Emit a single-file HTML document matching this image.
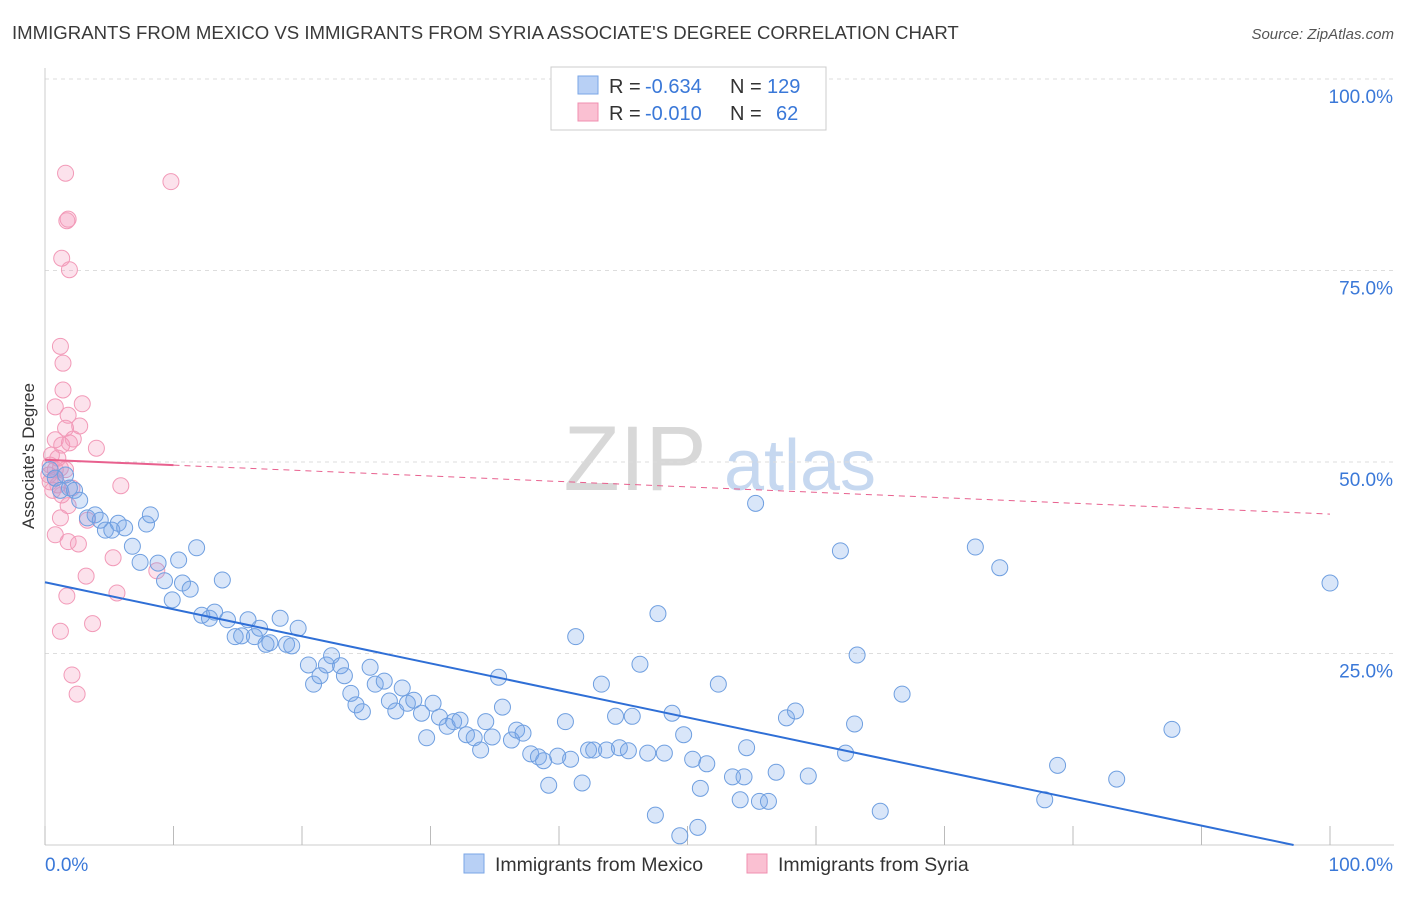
<!DOCTYPE html>
<html><head><meta charset="utf-8"><style>
body{margin:0;background:#fff;font-family:"Liberation Sans",sans-serif;}
svg text{font-family:"Liberation Sans",sans-serif;}
</style></head><body>
<svg id="chart" width="1406" height="892" xmlns="http://www.w3.org/2000/svg">
<text x="12" y="39" font-size="18.6" fill="#3a3a3a">IMMIGRANTS FROM MEXICO VS IMMIGRANTS FROM SYRIA ASSOCIATE'S DEGREE CORRELATION CHART</text>
<text x="1394" y="39" font-size="15" fill="#555" font-style="italic" text-anchor="end">Source: ZipAtlas.com</text>
<g>
<text x="635" y="490" font-size="92" fill="#d8d8d8" font-family="Liberation Serif, serif" text-anchor="middle">ZIP</text>
<text x="800" y="490" font-size="72" fill="#c6d8f0" text-anchor="middle">atlas</text>
</g>
<g id="grid"></g>
<g id="axes"></g>
<g id="marks"></g>
<text transform="translate(34,456) rotate(-90)" font-size="17" fill="#333" text-anchor="middle">Associate's Degree</text>
<g>
<rect x="551" y="67" width="275" height="63" fill="#fff" stroke="#ccc"/>
<rect x="578" y="76" width="20" height="18" fill="#b8d0f5" stroke="#7aa6e6"/>
<g font-size="20">
<text x="609" y="93" fill="#333">R =</text><text x="645" y="93" fill="#3a78d8">-0.634</text>
<text x="730" y="93" fill="#333">N =</text><text x="767" y="93" fill="#3a78d8">129</text></g>
<rect x="578" y="103" width="20" height="18" fill="#fac0d2" stroke="#f08fb0"/>
<g font-size="20">
<text x="609" y="120" fill="#333">R =</text><text x="645" y="120" fill="#3a78d8">-0.010</text>
<text x="730" y="120" fill="#333">N =</text><text x="776" y="120" fill="#3a78d8">62</text></g>
</g>
<g>
<rect x="464" y="854" width="20" height="19" fill="#b8d0f5" stroke="#7aa6e6"/>
<text x="495" y="871" font-size="19.5" fill="#333">Immigrants from Mexico</text>
<rect x="747" y="854" width="20" height="19" fill="#fac0d2" stroke="#f08fb0"/>
<text x="778" y="871" font-size="19.5" fill="#333">Immigrants from Syria</text>
</g>
</svg>
<script>
const mexX=[0.4,0.8,1.2,1.6,1.9,2.3,2.7,3.3,3.9,4.3,4.7,5.2,5.7,6.2,6.8,7.4,7.9,8.2,8.8,9.3,9.9,10.4,10.7,11.3,11.8,12.2,12.8,13.2,13.8,14.2,14.8,15.3,15.8,16.3,16.7,17.2,17.5,18.3,18.8,19.2,19.7,20.5,20.9,21.4,21.9,22.3,23.0,23.3,23.8,24.2,24.7,25.3,25.7,26.4,26.8,27.3,27.8,28.2,28.7,29.3,29.7,30.2,30.7,31.3,31.8,32.3,32.8,33.4,33.9,34.3,34.8,35.3,35.6,36.3,36.7,37.2,37.8,38.4,38.8,39.2,39.9,40.5,40.9,41.3,41.8,42.3,42.7,43.3,43.7,44.4,44.7,45.4,45.7,46.3,46.9,47.7,48.2,48.8,49.7,50.4,51.0,51.5,52.4,53.5,54.1,54.4,54.6,55.3,55.6,56.3,56.9,57.7,58.4,59.4,61.9,62.3,63.0,63.2,65.0,66.7,72.4,74.3,77.8,78.8,83.4,87.7,100.0,47.5,49.4,50.8];
const mexY=[49.0,47.9,46.3,48.3,46.6,46.3,45.0,42.7,43.1,42.4,41.1,41.1,42.0,41.4,39.0,36.9,41.9,43.1,36.8,34.5,32.0,37.2,34.2,33.4,38.8,30.0,29.6,30.4,34.6,29.4,27.2,27.3,29.4,27.2,28.3,26.2,26.4,29.6,26.2,26.0,28.3,23.5,21.0,22.1,23.5,24.7,23.4,22.1,19.8,18.3,17.4,23.2,21.0,21.4,18.8,17.5,20.5,18.5,18.9,17.2,14.0,18.5,16.7,15.5,16.1,16.3,14.4,14.0,12.4,16.1,14.1,21.9,18.0,13.7,15.0,14.6,11.9,11.5,11.0,7.8,11.6,16.1,11.2,27.2,8.1,12.4,12.4,21.0,12.4,16.8,12.7,12.3,16.8,23.6,12.0,30.2,12.0,17.2,14.4,11.2,7.4,10.6,21.0,8.9,5.9,8.9,12.7,44.6,5.7,5.7,9.5,16.6,17.5,9.0,38.4,12.0,15.8,24.8,4.4,19.7,38.9,36.2,5.9,10.4,8.6,15.1,34.2,3.9,1.2,2.3];
const syrX=[1.6,1.8,1.7,9.8,1.3,1.9,1.2,1.4,1.4,0.8,2.9,1.8,1.6,2.7,0.8,1.3,1.9,2.2,4.0,0.5,1.0,0.4,1.2,0.8,0.4,1.0,1.6,2.1,1.3,1.8,1.2,3.3,0.8,1.8,2.6,5.3,5.9,8.7,3.2,1.7,5.6,1.2,3.7,2.1,2.5,0.6,0.3,0.8];
const syrY=[87.7,81.7,81.5,86.6,76.6,75.1,65.1,62.9,59.4,57.2,57.6,56.1,54.4,54.7,52.9,52.2,52.5,53.0,51.8,50.9,50.5,49.6,49.2,47.9,47.4,47.0,49.0,46.6,45.7,44.3,42.7,42.4,40.5,39.6,39.3,37.5,46.9,35.8,35.1,32.5,32.9,27.9,28.9,22.2,19.7,46.3,48.3,49.0];
const mexFit=[34.3,-0.353];
const syrFit=[50.3,-0.071];
const syrSolidEnd=10;
const yTicks=[25,50,75,100];
const yTickLabels=["25.0%","50.0%","75.0%","100.0%"];
const xTicks=[0,10,20,30,40,50,60,70,80,90,100];

const NS="http://www.w3.org/2000/svg";
const sx=v=>45+v*12.85;
const sy=v=>845-v*7.66;
function mk(tag,attrs,parent){const e=document.createElementNS(NS,tag);for(const k in attrs)e.setAttribute(k,attrs[k]);document.getElementById(parent).appendChild(e);return e;}

yTicks.forEach((t,i)=>{
 const l=mk('line',{x1:45,x2:1394,y1:sy(t),y2:sy(t),stroke:'#ddd','stroke-dasharray':'4,4'},'grid');
 
 
 const tx=mk('text',{x:1393,y:sy(t)+24,'font-size':19,fill:'#3a78d8','text-anchor':'end'},'grid');
 tx.textContent=yTickLabels[i];
 
 
});
const yl=mk('line',{x1:45,x2:45,y1:68,y2:845,stroke:'#ccc'},'axes');


const xl=mk('line',{x1:45,x2:1394,y1:845,y2:845,stroke:'#ccc'},'axes');


xTicks.forEach(t=>{
 const l=mk('line',{x1:sx(t),x2:sx(t),y1:826,y2:845,stroke:'#bbb'},'axes');
 
 
});
const x0=mk('text',{x:45,y:871,'font-size':19,fill:'#3a78d8'},'axes');
x0.textContent='0.0%';


const x1=mk('text',{x:1393,y:871,'font-size':19,fill:'#3a78d8','text-anchor':'end'},'axes');
x1.textContent='100.0%';



syrX.forEach((x,i)=>{
 const c=mk('circle',{cx:sx(x),cy:sy(syrY[i]),r:8,fill:'rgba(245,150,185,0.28)',stroke:'#f29ab8','stroke-width':1},'marks');
 
 
});
mexX.forEach((x,i)=>{
 const c=mk('circle',{cx:sx(x),cy:sy(mexY[i]),r:8,fill:'rgba(120,165,235,0.28)',stroke:'#6f9fe0','stroke-width':1},'marks');
 
 
});
const xEnd=-mexFit[0]/mexFit[1];
const tm=mk('line',{x1:sx(0),y1:sy(mexFit[0]),x2:sx(xEnd),y2:sy(0),stroke:'#2f6fd6','stroke-width':2},'marks');


const ts=mk('line',{x1:sx(0),y1:sy(syrFit[0]),x2:sx(syrSolidEnd),y2:sy(syrFit[0]+syrFit[1]*syrSolidEnd),stroke:'#e8608e','stroke-width':2},'marks');


const td=mk('line',{x1:sx(syrSolidEnd),y1:sy(syrFit[0]+syrFit[1]*syrSolidEnd),x2:sx(100),y2:sy(syrFit[0]+syrFit[1]*100),stroke:'#e8608e','stroke-width':1,'stroke-dasharray':'6,5'},'marks');


</script>
</body></html>
